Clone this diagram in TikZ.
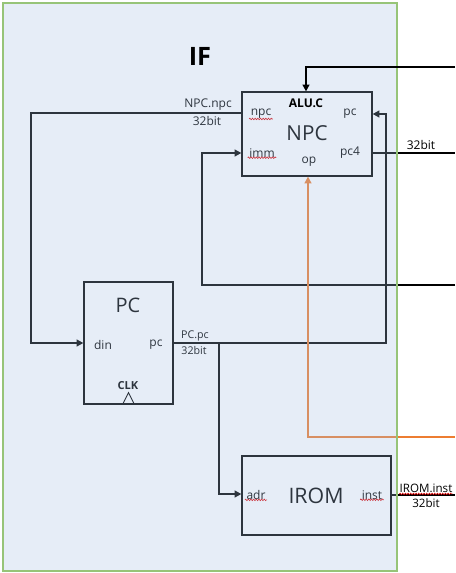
\documentclass[tikz,border=0pt]{standalone}
\usepackage{fontspec}
\setmainfont{Open Sans}
\usetikzlibrary{arrows.meta,decorations.pathmorphing}

\definecolor{iffill}{RGB}{165,191,226}
\definecolor{ifedge}{RGB}{151,196,120}
\definecolor{opcol}{RGB}{237,125,49}

\begin{document}
\begin{tikzpicture}[x=0.75pt,y=-0.75pt,
    blk/.style={draw,line width=0.9pt,inner sep=0pt},
    big/.style={font=\fontsize{15.5}{19}\selectfont},
    port/.style={font=\fontsize{9}{10}\selectfont,inner sep=1pt},
    tag/.style={font=\fontsize{9}{10}\selectfont,inner sep=0pt},
    wire/.style={line width=1.5pt},
    arr/.style={-{Triangle[length=5pt,width=5pt]}},
    squig/.style={red!85!black,line width=0.45pt,decorate,
      decoration={zigzag,segment length=2pt,amplitude=0.6pt}}]
    \useasboundingbox (0,0) rectangle (455,573);

    % Blocks
    \node[blk,minimum width=97.5pt,minimum height=63pt] (NPC) at (307,134) {};
    \node[blk,minimum width=66.75pt,minimum height=91.5pt] (PC) at (128.5,343) {};
    \node[blk,minimum width=111.75pt,minimum height=59.25pt] (IROM) at (316.5,495.5) {};
    \node[big] (npcName) at (307,133) {NPC};
    \node[big,font=\fontsize{15}{18}\selectfont] (pcName) at (128,305) {PC};
    \node[big,font=\fontsize{16}{19}\selectfont] (iromName) at (316,496) {IROM};

    % Ports
    \node[port] (npcL) at (261,114) {npc};
    \node[port] (pcL) at (350,114) {pc};
    \node[port] (immL) at (262,153) {imm};
    \node[port] (pc4L) at (350,153) {pc4};
    \node[port] (opL) at (309,162) {op};
    \node[port] (dinL) at (103,345) {din};
    \node[port] (pcOut) at (156,345) {pc};
    \node[port,font=\bfseries\fontsize{8.3}{9}\selectfont] (clkL) at (128,386) {CLK};
    \node[port] (adrL) at (256,495) {adr};
    \node[port] (instL) at (372,495) {inst};
    \draw[line width=0.7pt] (PC.south) ++(-6,0) -- ++(6,-12) -- ++(6,12);

    % Spell-check marks
    \draw[squig] ([yshift=1pt]npcL.south west) -- ([yshift=1pt]npcL.south east);
    \draw[squig] ([yshift=1pt]immL.south west) -- ([yshift=1pt]immL.south east);
    \draw[squig] ([yshift=1pt]adrL.south west) -- ([yshift=1pt]adrL.south east);
    \draw[squig] ([yshift=1pt]instL.south west) -- ([yshift=1pt]instL.south east);

    % Free ends on the right
    \coordinate (aluSrc) at (455,67);
    \coordinate (pc4Dst) at (455,153);
    \coordinate (immSrc) at (455,285);
    \coordinate (opSrc) at (455,437);
    \coordinate (instDst) at (455,495);
    \coordinate (pcSplit) at (219,343);

    % Wires
    \draw[wire,arr] (NPC.west |- 0,113) -- ++(-210,0) |- (PC.west |- 0,343);
    \draw[wire,arr] (immSrc) -- ++(-253,0) |- (NPC.west |- immL);
    \draw[wire,arr] (PC.east |- 0,343) -- ++(212,0) |- (NPC.east |- pcL);
    \draw[wire,arr] (pcSplit) |- (IROM.west |- 0,494);
    \draw[wire] (NPC.east |- pc4L) -- (pc4Dst);
    \draw[wire] (IROM.east |- instL) -- (instDst);
    \draw[wire,opcol,arr] (opSrc) -| (NPC.south -| 308,0);

    % Wire labels
    \node[tag] (npcTag) at (208,105) {NPC.npc};
    \node[tag] (npcBits) at (207,121) {32bit};
    \node[tag,font=\fontsize{8}{9}\selectfont] (pcTag) at (195,336) {PC.pc};
    \node[tag,font=\fontsize{8}{9}\selectfont] (pcBits) at (194,350) {32bit};

    % Stage frame
    \fill[iffill,fill opacity=0.28] (3,3) rectangle (397,571);
    \draw[ifedge,line width=0.8pt] (3,3) rectangle (397,571);

    % On top of the frame
    \node[font=\bfseries\fontsize{19}{22}\selectfont] (ifTitle) at (200,56) {IF};
    \node[port,font=\bfseries\fontsize{9}{10}\selectfont] (aluL) at (306,103) {ALU.C};
    \draw[wire,arr] (aluSrc) -| (NPC.north -| aluL);
    \node[tag] (pc4Bits) at (421,145) {32bit};
    \node[tag,font=\fontsize{8.7}{10}\selectfont] (instTag) at (426,488) {IROM.inst};
    \node[tag,font=\fontsize{8.7}{10}\selectfont] (instBits) at (426,503) {32bit};
    \draw[squig] ([yshift=-1pt]instTag.south west) -- ([yshift=-1pt]instTag.south east);
  \end{tikzpicture}
\end{document}
